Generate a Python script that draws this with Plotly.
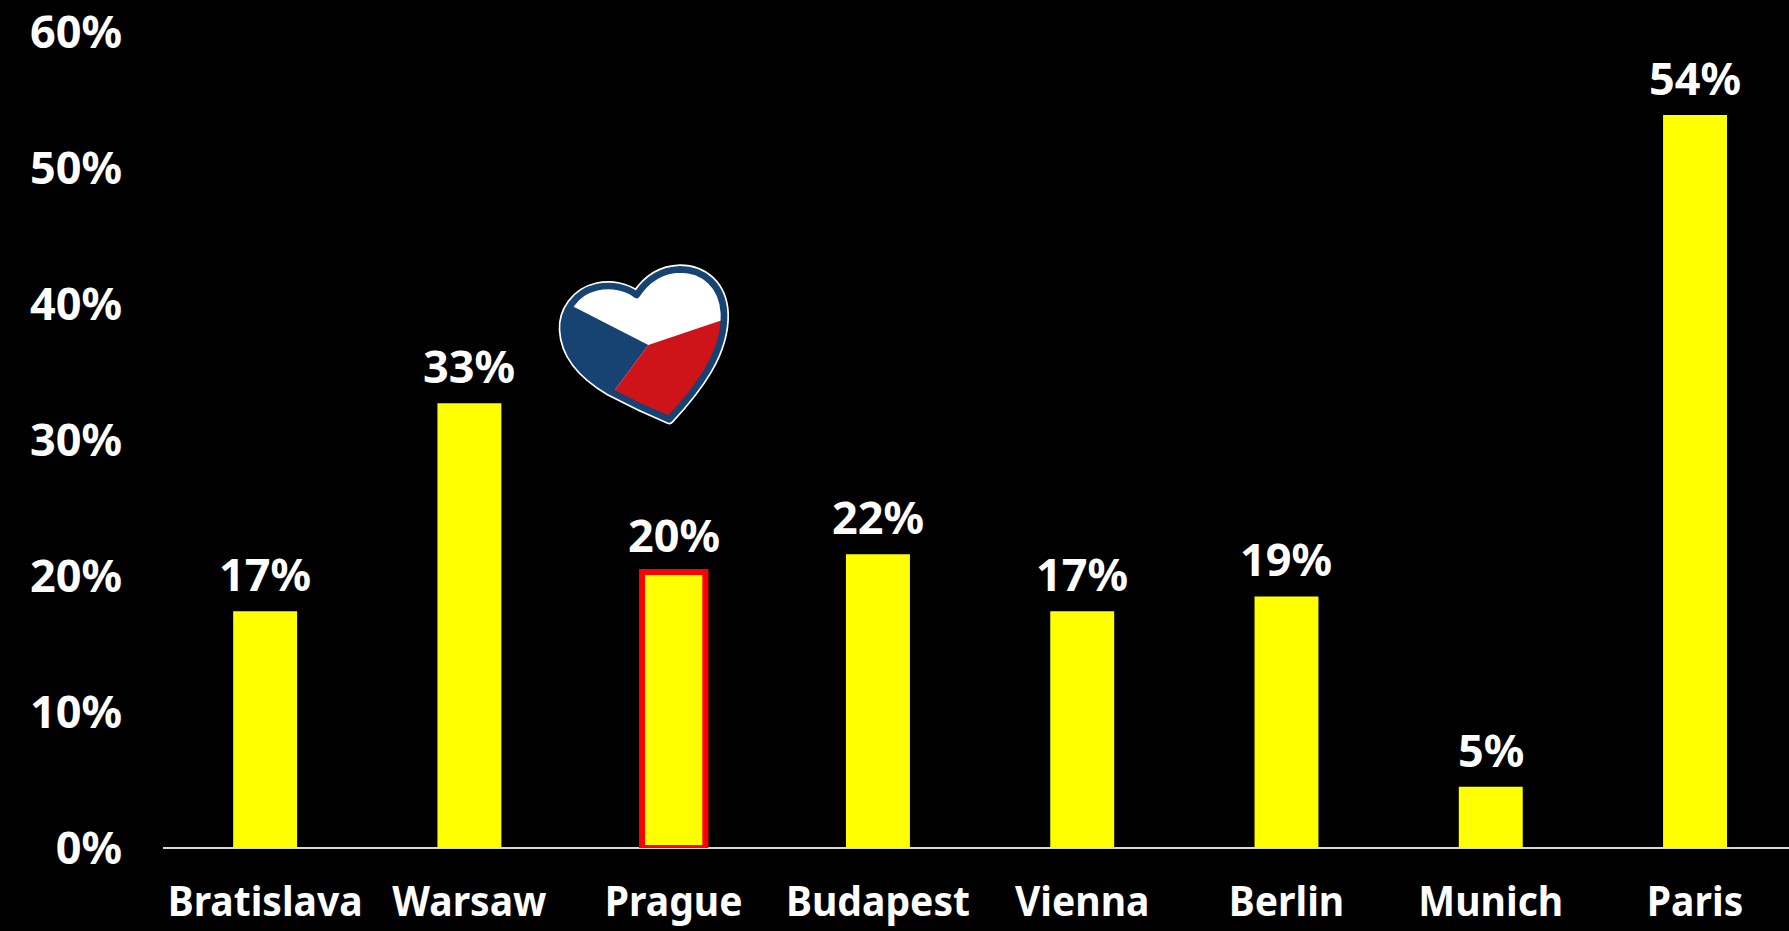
import base64
import plotly.graph_objects as go

cities = ["Bratislava", "Warsaw", "Prague", "Budapest", "Vienna", "Berlin", "Munich", "Paris"]
values = [17.4, 32.7, 20.3, 21.6, 17.4, 18.5, 4.5, 53.9]
labels = ["17%", "33%", "20%", "22%", "17%", "19%", "5%", "54%"]
highlight = "Prague"
y_ticks = [0, 10, 20, 30, 40, 50, 60]
y_tick_labels = ["0%", "10%", "20%", "30%", "40%", "50%", "60%"]

FONT = "Noto Sans"
W, H = 1789, 931

fig = go.Figure(go.Bar(
    x=cities, y=values, cliponaxis=False,
    width=[0.31 if c == highlight else 0.313 for c in cities],
    marker=dict(color="#ffff00",
                line=dict(color="#ff0000",
                          width=[6 if c == highlight else 0 for c in cities])),
))
for c, v, t in zip(cities, values, labels):
    fig.add_annotation(x=c, y=v, text=t, showarrow=False, yanchor="bottom", yshift=5,
                       font=dict(family=FONT, size=45, color="white", weight=700))

outline = ("M388 508 C470 420 556 310 552 190 C548 105 490 58 420 58 C360 60 318 92 290 135 "
           "C260 112 215 102 170 112 C105 127 68 185 71 240 C75 318 135 380 210 424 "
           "C270 456 330 484 388 508 Z")
svg = f'''<svg xmlns="http://www.w3.org/2000/svg" width="660" height="570" viewBox="0 0 660 570">
<defs><clipPath id="h"><path d="{outline}"/></clipPath></defs>
<path d="{outline}" fill="#ffffff" stroke="#ffffff" stroke-width="30" stroke-linejoin="round"/>
<g clip-path="url(#h)">
<polygon points="325,285 60,149 0,149 0,500 180,480" fill="#174373"/>
<polygon points="325,285 600,192 600,600 180,480" fill="#cf1419"/>
</g>
<path d="{outline}" fill="none" stroke="#174373" stroke-width="20" stroke-linejoin="round"/>
</svg>'''
uri = "data:image/svg+xml;base64," + base64.b64encode(svg.encode()).decode()

TOP = 16
fig.update_layout(
    width=W, height=H, autosize=False, showlegend=False,
    paper_bgcolor="black", plot_bgcolor="black",
    margin=dict(l=163, r=0, t=TOP, b=83, pad=0, autoexpand=False),
    font=dict(family=FONT, color="white"),
    xaxis=dict(range=[-0.5, 7.46], showgrid=False, zeroline=False, showline=False,
               automargin=False, ticks="", tickangle=0, ticklabelstandoff=25,
               ticklabeloverflow="allow",
               tickfont=dict(family=FONT, size=42, color="white", weight=700)),
    yaxis=dict(range=[0, 60 * (H - TOP - 83) / 816], tickvals=y_ticks, ticktext=y_tick_labels,
               showgrid=False, zeroline=True, zerolinecolor="#d9d9d9", zerolinewidth=2,
               automargin=False, showline=False, ticks="", ticklabelstandoff=40,
               ticklabeloverflow="allow",
               tickfont=dict(family=FONT, size=45, color="white", weight=700)),
    images=[dict(source=uri, xref="paper", yref="paper", xanchor="left", yanchor="top",
                 x=(540 - 163) / (W - 163), y=1 - (250 - TOP) / (H - TOP - 83),
                 sizex=220 / (W - 163), sizey=190 / (H - TOP - 83),
                 sizing="stretch", layer="above")],
)
fig.write_html("out.html", config={"displayModeBar": False},
               post_script="document.documentElement.style.background='black';"
                           "document.body.style.margin='0';document.body.style.background='black';"
                           "document.documentElement.style.overflow='hidden';"
                           "document.querySelectorAll('.xtick text').forEach(function(t){"
                           "var x=t.getAttribute('x')||0,o=t.getAttribute('transform')||'';"
                           "t.setAttribute('transform',o+' translate('+x+',0) scale(0.93,1) translate('+(-x)+',0)');});")
